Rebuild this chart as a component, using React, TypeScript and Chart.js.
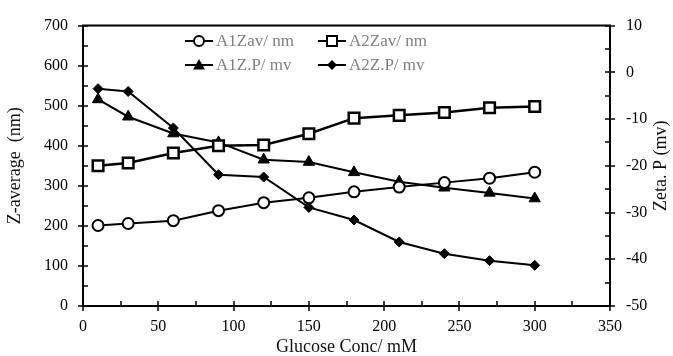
import React, { useEffect, useRef } from "react";
import { Chart, registerables } from "chart.js";

Chart.register(...registerables);

const glucoseConc = [10, 30, 60, 90, 120, 150, 180, 210, 240, 270, 300];
const a1Zav = [201, 206, 213, 238, 258, 270, 285, 297, 308, 319, 334];
const a2Zav = [350, 357, 382, 400, 402, 430, 469, 476, 483, 495, 498];
const a1ZP = [-5.8, -9.5, -13.1, -15.0, -18.7, -19.2, -21.4, -23.4, -24.7, -25.8, -27.0];
const a2ZP = [-3.5, -4.1, -11.9, -21.9, -22.4, -28.9, -31.6, -36.3, -38.8, -40.3, -41.3];
const seriesNames = ["A1Zav/ nm", "A2Zav/ nm", "A1Z.P/ mv", "A2Z.P/ mv"];

const FONT = "'Liberation Serif', 'Times New Roman', serif";

function drawMarker(ctx: CanvasRenderingContext2D, style: string, x: number, y: number) {
  ctx.save();
  ctx.strokeStyle = "#000";
  ctx.lineWidth = 2;
  ctx.beginPath();
  if (style === "circle") {
    ctx.fillStyle = "#fff";
    ctx.arc(x, y, 5, 0, Math.PI * 2);
    ctx.fill();
    ctx.stroke();
  } else if (style === "rect") {
    ctx.fillStyle = "#fff";
    ctx.rect(x - 5, y - 5, 10, 10);
    ctx.fill();
    ctx.stroke();
  } else if (style === "triangle") {
    ctx.fillStyle = "#000";
    ctx.moveTo(x, y - 6);
    ctx.lineTo(x + 6, y + 4.5);
    ctx.lineTo(x - 6, y + 4.5);
    ctx.closePath();
    ctx.fill();
  } else {
    ctx.fillStyle = "#000";
    ctx.moveTo(x - 5, y);
    ctx.lineTo(x, y - 5);
    ctx.lineTo(x + 5, y);
    ctx.lineTo(x, y + 5);
    ctx.closePath();
    ctx.fill();
  }
  ctx.restore();
}

const framePlugin = {
  id: "framePlugin",
  afterDraw(chart: any) {
    const ctx = chart.ctx as CanvasRenderingContext2D;
    const { left, right, top, bottom } = chart.chartArea;
    const xs = chart.scales.x;
    const ys = chart.scales.y;
    const y2 = chart.scales.y2;
    ctx.save();
    ctx.strokeStyle = "#000";
    ctx.lineWidth = 2;
    ctx.beginPath();
    ctx.moveTo(left - 1, top);
    ctx.lineTo(right + 1, top);
    ctx.stroke();
    ctx.lineWidth = 1.5;
    const mids = (vals: number[]) => vals.slice(0, -1).map((v, i) => (v + vals[i + 1]) / 2);
    const xv = xs.ticks.map((t: any) => t.value);
    const yv = ys.ticks.map((t: any) => t.value);
    const y2v = y2.ticks.map((t: any) => t.value);
    ctx.beginPath();
    xv.forEach((v: number) => {
      const p = Math.round(xs.getPixelForValue(v));
      ctx.moveTo(p, bottom - 5);
      ctx.lineTo(p, bottom + 5);
    });
    mids(xv).forEach((v: number) => {
      const p = Math.round(xs.getPixelForValue(v));
      ctx.moveTo(p, bottom);
      ctx.lineTo(p, bottom - 5);
    });
    yv.forEach((v: number) => {
      const p = Math.round(ys.getPixelForValue(v));
      ctx.moveTo(left - 5, p);
      ctx.lineTo(left + 5, p);
    });
    mids(yv).forEach((v: number) => {
      const p = Math.round(ys.getPixelForValue(v));
      ctx.moveTo(left, p);
      ctx.lineTo(left + 5, p);
    });
    y2v.forEach((v: number) => {
      const p = Math.round(y2.getPixelForValue(v));
      ctx.moveTo(right - 5, p);
      ctx.lineTo(right + 5, p);
    });
    mids(y2v).forEach((v: number) => {
      const p = Math.round(y2.getPixelForValue(v));
      ctx.moveTo(right - 5, p);
      ctx.lineTo(right, p);
    });
    ctx.stroke();

    // right axis title
    ctx.save();
    ctx.translate(661, (top + bottom) / 2);
    ctx.rotate(-Math.PI / 2);
    ctx.font = `18px ${FONT}`;
    ctx.fillStyle = "#111";
    ctx.textAlign = "center";
    ctx.textBaseline = "middle";
    ctx.fillText("Zeta. P (mv)", 0, 0);
    ctx.restore();

    // legend
    const styles = ["circle", "rect", "triangle", "rectRot"];
    const cols = [185, 318];
    const rows = [41, 65];
    ctx.font = `17px ${FONT}`;
    ctx.textBaseline = "middle";
    ctx.textAlign = "left";
    seriesNames.forEach((name, i) => {
      const cx = cols[i % 2];
      const cy = rows[Math.floor(i / 2)];
      ctx.strokeStyle = "#000";
      ctx.lineWidth = 2;
      ctx.beginPath();
      ctx.moveTo(cx, cy);
      ctx.lineTo(cx + 28, cy);
      ctx.stroke();
      drawMarker(ctx, styles[i], cx + 14, cy);
      ctx.fillStyle = "#808080";
      ctx.fillText(name, cx + 31, cy + 1);
    });
    ctx.restore();
  },
};

export default function App() {
  const ref = useRef<HTMLCanvasElement | null>(null);
  useEffect(() => {
    if (!ref.current) return;
    const pts = (ys: number[]) => glucoseConc.map((x, i) => ({ x, y: ys[i] }));
    const chart = new Chart(ref.current, {
      type: "line",
      data: {
        datasets: [
          {
            label: seriesNames[0],
            data: pts(a1Zav),
            yAxisID: "y",
            borderColor: "#000",
            borderWidth: 2,
            pointStyle: "circle",
            pointRadius: 5.5,
            pointBorderWidth: 2,
            pointBackgroundColor: "#fff",
            pointBorderColor: "#000",
            order: 1,
          },
          {
            label: seriesNames[1],
            data: pts(a2Zav),
            yAxisID: "y",
            borderColor: "#000",
            borderWidth: 2.5,
            pointStyle: "rect",
            pointRadius: 7.5,
            pointBorderWidth: 2.5,
            pointBackgroundColor: "#fff",
            pointBorderColor: "#000",
            order: 0,
          },
          {
            label: seriesNames[2],
            data: pts(a1ZP),
            yAxisID: "y2",
            borderColor: "#000",
            borderWidth: 2,
            pointStyle: "triangle",
            pointRadius: 6.5,
            pointBorderWidth: 1,
            pointBackgroundColor: "#000",
            pointBorderColor: "#000",
            order: 2,
          },
          {
            label: seriesNames[3],
            data: pts(a2ZP),
            yAxisID: "y2",
            borderColor: "#000",
            borderWidth: 2,
            pointStyle: "rectRot",
            pointRadius: 5,
            pointBorderWidth: 1,
            pointBackgroundColor: "#000",
            pointBorderColor: "#000",
            order: 3,
          },
        ],
      },
      options: {
        animation: false,
        responsive: true,
        maintainAspectRatio: false,
        layout: { padding: { top: 21, left: 0, right: 0, bottom: 0 } },
        plugins: { legend: { display: false }, tooltip: { enabled: false } },
        scales: {
          x: {
            type: "linear",
            min: 0,
            max: 350,
            afterFit: (s: any) => { s.height = 50; },
            grid: { display: false, drawTicks: false },
            border: { display: true, color: "#000", width: 2 },
            ticks: { stepSize: 50, padding: 11, color: "#000", font: { family: FONT, size: 16 } },
            title: { display: true, text: "Glucose Conc/ mM", color: "#111", font: { family: FONT, size: 18, lineHeight: 1 }, padding: { top: 0, bottom: 0 } },
          },
          y: {
            type: "linear",
            position: "left",
            min: 0,
            max: 700,
            afterFit: (s: any) => { s.width = 83; },
            grid: { display: false, drawTicks: false },
            border: { display: true, color: "#000", width: 2 },
            ticks: { stepSize: 100, padding: 15, color: "#000", font: { family: FONT, size: 16 } },
            title: { display: true, text: "Z-average  (nm)", color: "#111", font: { family: FONT, size: 18 }, padding: { top: 4, bottom: 0 } },
          },
          y2: {
            type: "linear",
            position: "right",
            min: -50,
            max: 10,
            afterFit: (s: any) => { s.width = 63; },
            grid: { display: false, drawTicks: false },
            border: { display: true, color: "#000", width: 2 },
            ticks: { stepSize: 10, padding: 16, color: "#000", font: { family: FONT, size: 16 } },
          },
        },
      },
      plugins: [framePlugin],
    });
    return () => chart.destroy();
  }, []);
  return (
    <div style={{ position: "fixed", left: 0, top: 0, width: 673, height: 356, background: "#fff" }}>
      <canvas ref={ref} />
    </div>
  );
}
